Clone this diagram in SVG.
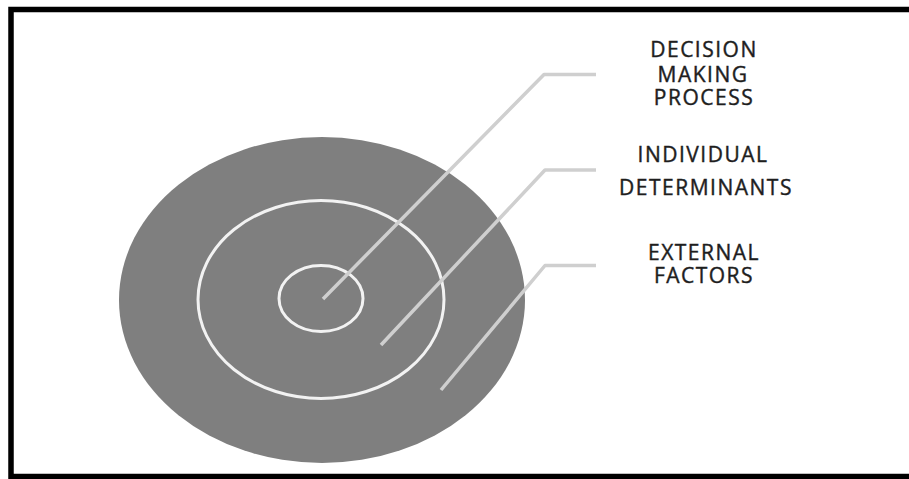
<svg xmlns="http://www.w3.org/2000/svg" width="909" height="479" viewBox="0 0 909 479">
<style>
.lbl{font-family:"Open Sans","Liberation Sans",sans-serif;font-size:21px;fill:#1e1e1e;stroke:#1e1e1e;stroke-width:0.4px;text-anchor:middle;letter-spacing:1.5px}
.ring{fill:none;stroke:#f2f2f2;stroke-width:3}
.conn{fill:none;stroke:#cfcfcf;stroke-width:3.5;stroke-linejoin:round;stroke-linecap:butt}
</style>
<rect x="0" y="0" width="909" height="479" fill="#ffffff"/>
<rect x="11" y="9.5" width="1000" height="467" fill="none" stroke="#000" stroke-width="5.5"/>
<g id="external-factors">
<ellipse cx="322" cy="300" rx="203" ry="163" fill="#7f7f7f"/>
</g>
<g id="individual-determinants">
<ellipse class="ring" cx="321" cy="299.5" rx="123" ry="99"/>
</g>
<g id="decision-making-process">
<ellipse class="ring" cx="321" cy="298.5" rx="42" ry="33"/>
</g>
<g id="connectors">
<path class="conn" d="M323 299 L544 74.5 L596 74.5"/>
<path class="conn" d="M381 345 L545 170 L596 170"/>
<path class="conn" d="M441 390 L545 265.5 L596 265.5"/>
</g>
<g id="labels">
<text class="lbl" x="704" y="57">DECISION</text>
<text class="lbl" x="703" y="82">MAKING</text>
<text class="lbl" x="704" y="105">PROCESS</text>
<text class="lbl" x="703" y="162">INDIVIDUAL</text>
<text class="lbl" x="706" y="195">DETERMINANTS</text>
<text class="lbl" x="704" y="260">EXTERNAL</text>
<text class="lbl" x="704" y="283">FACTORS</text>
</g>
</svg>
